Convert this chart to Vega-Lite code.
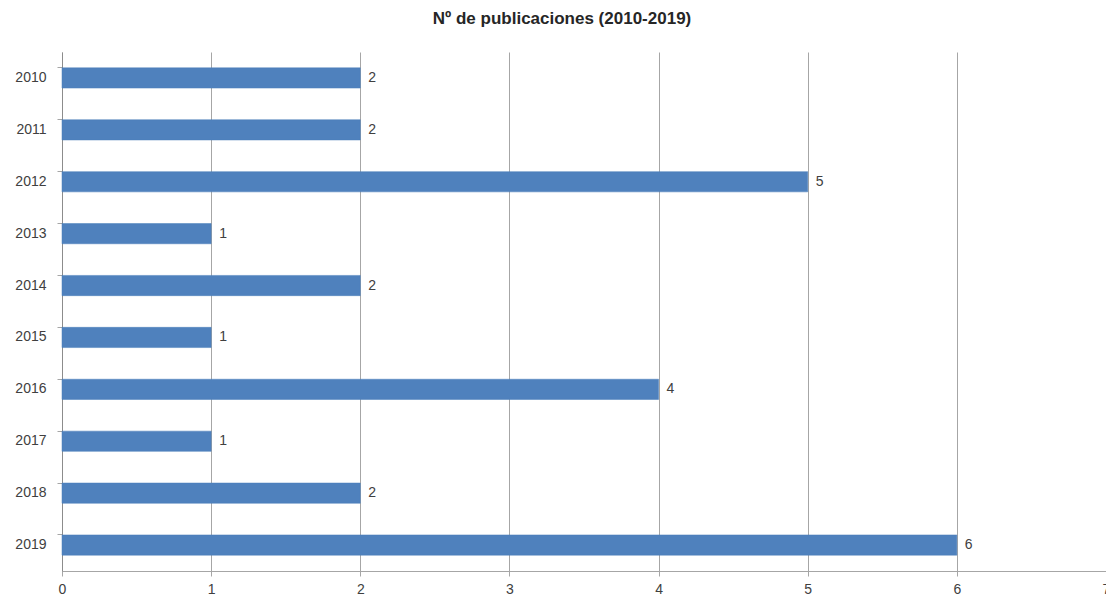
{
  "$schema": "https://vega.github.io/schema/vega-lite/v6.json",
  "autosize": {"type": "none"},
  "width": 1044,
  "height": 519,
  "padding": {"left": 62, "top": 52, "right": 0, "bottom": 31},
  "background": "white",
  "title": {
    "text": "Nº de publicaciones (2010-2019)",
    "font": "Liberation Sans",
    "fontSize": 17,
    "fontWeight": "bold",
    "color": "#262626",
    "anchor": "middle",
    "frame": "group",
    "dx": -22,
    "offset": 24
  },
  "data": {
    "values": [
      {"year": "2010", "n": 2},
      {"year": "2011", "n": 2},
      {"year": "2012", "n": 5},
      {"year": "2013", "n": 1},
      {"year": "2014", "n": 2},
      {"year": "2015", "n": 1},
      {"year": "2016", "n": 4},
      {"year": "2017", "n": 1},
      {"year": "2018", "n": 2},
      {"year": "2019", "n": 6}
    ]
  },
  "encoding": {
    "y": {
      "field": "year",
      "type": "nominal",
      "sort": null,
      "scale": {"paddingInner": 0.61, "paddingOuter": 0.305},
      "axis": {
        "title": null,
        "bandPosition": 0,
        "tickSize": 5,
        "tickColor": "#a6a6a6",
        "domainColor": "#8c8c8c",
        "labelPadding": 11,
        "labelFont": "Liberation Sans",
        "labelFontSize": 14,
        "labelColor": "#404040",
        "grid": false
      }
    },
    "x": {
      "field": "n",
      "type": "quantitative",
      "scale": {"domain": [0, 7], "nice": false},
      "axis": {
        "title": null,
        "values": [0, 1, 2, 3, 4, 5, 6, 7],
        "format": "d",
        "tickSize": 5,
        "tickColor": "#a6a6a6",
        "domainColor": "#a6a6a6",
        "gridColor": "#a6a6a6",
        "gridOpacity": 1,
        "labelPadding": 6,
        "labelFont": "Liberation Sans",
        "labelFontSize": 14,
        "labelColor": "#404040",
        "labelFlush": false
      }
    }
  },
  "layer": [
    {"mark": {"type": "bar", "color": "#4f81bd", "stroke": "#4a7ebb", "strokeWidth": 0.5}},
    {
      "mark": {"type": "text", "align": "left", "dx": 8, "font": "Liberation Sans", "fontSize": 14, "color": "#404040"},
      "encoding": {"text": {"field": "n", "type": "quantitative"}}
    }
  ],
  "config": {"view": {"stroke": null}}
}
